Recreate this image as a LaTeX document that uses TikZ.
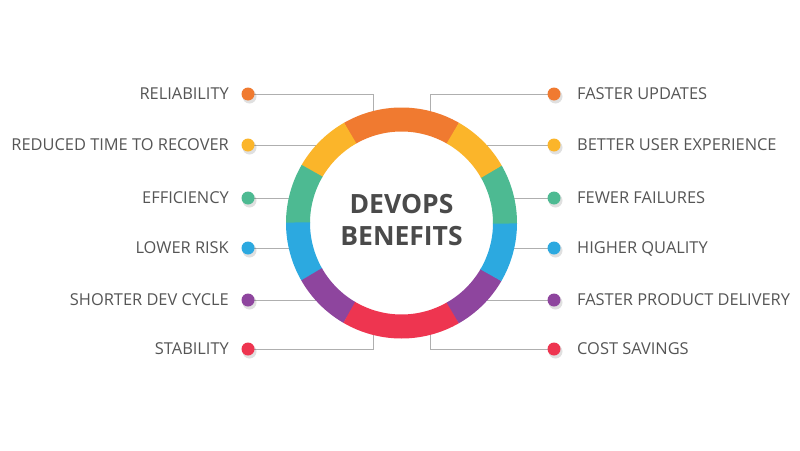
\documentclass[tikz,border=0pt]{standalone}
\usepackage{fontspec}
\setmainfont{Open Sans}
\definecolor{cOr}{HTML}{F07A30}
\definecolor{cYe}{HTML}{FBB52A}
\definecolor{cGr}{HTML}{4DBA92}
\definecolor{cBl}{HTML}{2CA9E0}
\definecolor{cPu}{HTML}{8E459E}
\definecolor{cRe}{HTML}{EE3550}
\definecolor{txt}{HTML}{555555}
\definecolor{ttl}{HTML}{4A4A4A}
\definecolor{lineg}{HTML}{AFAFAF}
\begin{document}
\begin{tikzpicture}[x=1pt,y=-1pt,
  dot/.style={circle, fill=#1, minimum size=13pt, inner sep=0pt},
  shd/.style={circle, fill=black, fill opacity=0.12, minimum size=14pt, inner sep=0pt},
  lbl/.style={text=txt, font=\fontsize{16.4}{18}\selectfont, inner sep=0pt, text height=11.7pt, text depth=0pt},
  conn/.style={draw=lineg, line width=0.9pt},
  seg/.style={line width=24pt, draw=#1}]
\useasboundingbox[fill=white] (0,0) rectangle (800,450);
\coordinate (c) at (401.5,223);
\coordinate (tL) at (373,160);
\coordinate (tR) at (430,160);
\coordinate (bL) at (373,290);
\coordinate (bR) at (430,290);
% dots (positions)
\foreach \n/\x/\y in {L1/248/94,L2/248/145,L3/248/198,L4/248/248,L5/248/300,L6/248/349,
                      R1/554/94,R2/554/145,R3/554/198,R4/554/248,R5/554/300,R6/554/349}
  \coordinate (p\n) at (\x,\y);
% connectors
\draw[conn] (pL1) -| (tL);
\draw[conn] (pR1) -| (tR);
\draw[conn] (pL6) -| (bL);
\draw[conn] (pR6) -| (bR);
\foreach \n in {L2,L3,L4,L5,R2,R3,R4,R5}
  \draw[conn] (p\n) -- (p\n -| c);
% ring
\fill[white] (c) circle[radius=103];
\begin{scope}[shift={(c)}, yscale=-1]
  \foreach \a/\b/\col in {60/120/cOr, 119.7/150/cYe, 149.7/180/cGr, 179.7/210/cBl, 209.7/240/cPu,
                          239.7/300/cRe, 299.7/330/cPu, 329.7/360/cBl, -0.3/30/cGr, 29.7/60.3/cYe}
    \draw[seg=\col] (\a:103.5) arc[start angle=\a, end angle=\b, radius=103.5];
\end{scope}
\node[text=ttl, font=\bfseries\fontsize{26.5}{32}\selectfont, align=center, inner sep=0pt] (title) at (401.5,220) {DEVOPS\\BENEFITS};
% dots
\foreach \n/\col in {L1/cOr,L2/cYe,L3/cGr,L4/cBl,L5/cPu,L6/cRe,R1/cOr,R2/cYe,R3/cGr,R4/cBl,R5/cPu,R6/cRe}{
  \node[shd] at ([shift={(1.5,2.5)}]p\n) {};
  \node[dot=\col] (d\n) at (p\n) {};
}
% labels
\node[lbl, anchor=east] (tL1) at (229,94) {RELIABILITY};
\node[lbl, anchor=east] (tL2) at (229,145) {REDUCED TIME TO RECOVER};
\node[lbl, anchor=east] (tL3) at (229,198) {EFFICIENCY};
\node[lbl, anchor=east] (tL4) at (229,248) {LOWER RISK};
\node[lbl, anchor=east] (tL5) at (229,300) {SHORTER DEV CYCLE};
\node[lbl, anchor=east] (tL6) at (229,349) {STABILITY};
\node[lbl, anchor=west] (tR1) at (577,94) {FASTER UPDATES};
\node[lbl, anchor=west] (tR2) at (577,145) {BETTER USER EXPERIENCE};
\node[lbl, anchor=west] (tR3) at (577,198) {FEWER FAILURES};
\node[lbl, anchor=west] (tR4) at (577,248) {HIGHER QUALITY};
\node[lbl, anchor=west] (tR5) at (577,300) {FASTER PRODUCT DELIVERY};
\node[lbl, anchor=west] (tR6) at (577,349) {COST SAVINGS};
\end{tikzpicture}
\end{document}
